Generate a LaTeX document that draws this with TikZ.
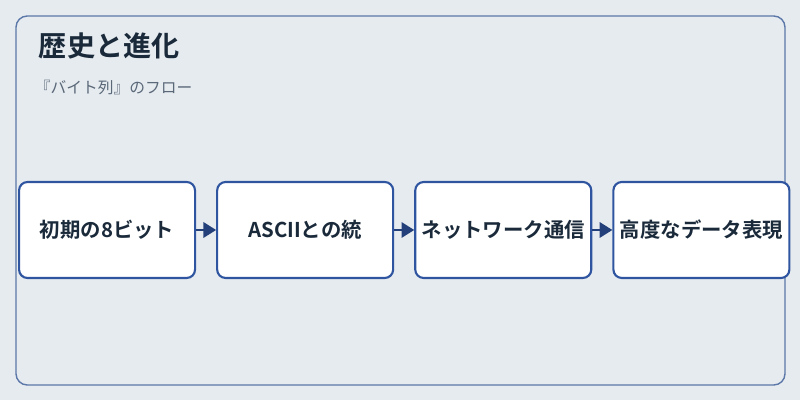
\documentclass[tikz,border=0pt]{standalone}
\usepackage{fontspec}
\newfontfamily\cjk{Noto Sans CJK JP}
\newfontfamily\cjkbold{Noto Sans CJK JP Bold}
\usetikzlibrary{arrows.meta, positioning}
\definecolor{bgpanel}{HTML}{E6EBF0}
\definecolor{panelline}{HTML}{5B78A8}
\definecolor{boxline}{HTML}{2F55A0}
\definecolor{inktext}{HTML}{1A2A3A}
\definecolor{subtext}{HTML}{5A6878}
\definecolor{arrowink}{HTML}{23407A}

\begin{document}
\begin{tikzpicture}[
    stagebox/.style={draw=boxline, fill=white, rectangle, line width=1.5pt, rounded corners=6pt,
        minimum width=4.4cm, minimum height=2.4cm, inner sep=0pt,
        font=\cjkbold\fontsize{14.5}{17}\selectfont, text=inktext},
    arrow/.style={-{Triangle[length=9pt, width=11pt]}, line width=1.2pt, arrowink}
]
\useasboundingbox[fill=bgpanel] (0,0) rectangle (20,10);
\draw[panelline, line width=1pt, rounded corners=8pt] (0.4,0.375) rectangle (19.625,9.6);
\node[anchor=west, text=inktext, font=\cjkbold\fontsize{20}{24}\selectfont] (title) at (0.85,8.85) {歴史と進化};
\node[anchor=west, text=subtext, font=\cjk\fontsize{11.2}{13}\selectfont] (subtitle) at (0.75,7.8) {『バイト列』のフロー};

\node[stagebox, anchor=west] (early) at (0.45,4.25) {初期の8ビット};
\node[stagebox, right=0.5cm of early] (ascii) {ASCIIとの統};
\node[stagebox, right=0.5cm of ascii] (network) {ネットワーク通信};
\node[stagebox, right=0.5cm of network] (modern) {高度なデータ表現};

\draw[arrow] (early) -- (ascii);
\draw[arrow] (ascii) -- (network);
\draw[arrow] (network) -- (modern);
\end{tikzpicture}
\end{document}
